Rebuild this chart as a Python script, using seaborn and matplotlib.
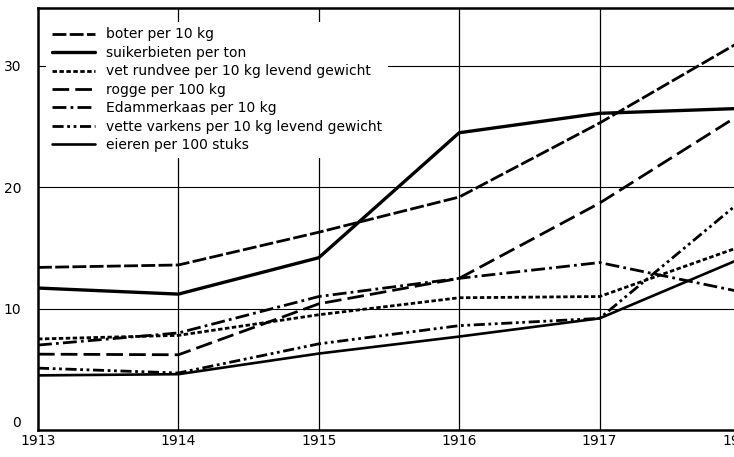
import matplotlib
matplotlib.use("Agg")
import matplotlib.pyplot as plt
import seaborn as sns
import pandas as pd

years = [1913, 1914, 1915, 1916, 1917, 1918]
year_labels = ["1913", "1914", "1915", "1916", "1917", "1918"]

boter = [13.4, 13.6, 16.3, 19.2, 25.3, 32.0]
suikerbieten = [11.7, 11.2, 14.2, 24.5, 26.1, 26.5]
vet_rundvee = [7.5, 7.8, 9.5, 10.9, 11.0, 15.1]
rogge = [6.25, 6.2, 10.4, 12.5, 18.7, 26.0]
edammerkaas = [7.0, 8.0, 11.0, 12.5, 13.8, 11.4]
vette_varkens = [5.1, 4.7, 7.1, 8.6, 9.2, 18.8]
eieren = [4.5, 4.6, 6.3, 7.7, 9.2, 14.1]

labels = [
    "boter per 10 kg",
    "suikerbieten per ton",
    "vet rundvee per 10 kg levend gewicht",
    "rogge per 100 kg",
    "Edammerkaas per 10 kg",
    "vette varkens per 10 kg levend gewicht",
    "eieren per 100 stuks",
]
series = [boter, suikerbieten, vet_rundvee, rogge, edammerkaas, vette_varkens, eieren]
styles = [
    (0, (5, 1.2)),
    "-",
    (0, (1.6, 0.9)),
    (0, (6, 2.2)),
    (0, (5, 1.5, 1, 1.5)),
    (0, (4, 1.3, 1, 1.3, 1, 1.3)),
    "-",
]
widths = [2.0, 2.4, 2.0, 2.0, 2.0, 2.0, 1.9]

y_ticks = [0, 10, 20, 30]

sns.set_theme(style="white")
plt.rcParams["font.family"] = ["DejaVu Sans"]

fig = plt.figure(figsize=(7.34, 4.57), dpi=100)
W, H = 734, 457
ax = fig.add_axes([38 / W, (H - 430) / H, (740 - 38) / W, (430 - 8) / H])

for yr in years[1:-1]:
    ax.axvline(yr, color="black", lw=0.9, zorder=0)
for yv in y_ticks[1:]:
    ax.axhline(yv, color="black", lw=0.8, zorder=0)

for lab, vals, ls, lw in zip(labels, series, styles, widths):
    df = pd.DataFrame({"jaar": years, "prijs": vals})
    sns.lineplot(data=df, x="jaar", y="prijs", ax=ax, color="black",
                 linewidth=lw, linestyle=ls, label=lab)

ax.set_xlim(1913, 1918)
ax.set_ylim(0, 34.78)
ax.set_xticks(years)
ax.set_xticklabels(year_labels)
ax.set_yticks(y_ticks)
ax.set_yticklabels([str(v) for v in y_ticks])
ax.set_xlabel("")
ax.set_ylabel("")
ax.tick_params(axis="both", length=0, labelsize=10, colors="black")
ax.tick_params(axis="y", pad=12)
ax.tick_params(axis="x", pad=3)
# lift the "0" label slightly, as in the original
ylabs = ax.get_yticklabels()
ylabs[0].set_verticalalignment("bottom")

for side in ["left", "bottom", "top"]:
    ax.spines[side].set_visible(True)
    ax.spines[side].set_color("black")
    ax.spines[side].set_linewidth(1.8)
ax.spines["right"].set_visible(False)

leg = ax.legend(loc="upper left", bbox_to_anchor=(0.012, 0.967), borderaxespad=0,
                frameon=True, fontsize=10, handlelength=3.1, handletextpad=0.8,
                labelspacing=0.32, borderpad=0.4, facecolor="white",
                edgecolor="white", framealpha=1.0, fancybox=False)
leg.get_frame().set_linewidth(0)
for t in leg.get_texts():
    t.set_color("black")

fig.savefig("out.png", dpi=100, facecolor="white")
